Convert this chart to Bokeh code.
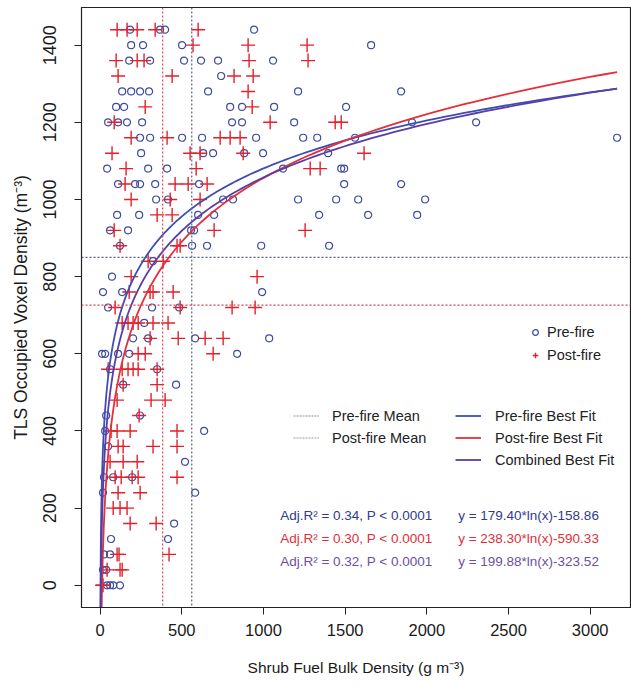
from bokeh.plotting import figure
from bokeh.models import Range1d, Span, Legend, LegendItem, Label, FixedTicker
from bokeh.embed import file_html
from bokeh.resources import INLINE
import numpy as np

# ---------------- data ----------------
pre_x = [184, 367, 398, 943,
         190, 263, 502, 1659,
         178, 306, 514, 618, 722, 1059,
         741,
         135, 190, 245, 300, 661, 1212, 1843,
         98, 147, 796, 869, 1065, 1506,
         49, 110, 165, 257, 808, 869, 1188, 1910, 2302,
         245, 306, 502, 624, 955, 1243, 1329, 1561, 3165,
         251, 631, 692, 882, 998, 1396,
         43, 294, 410, 1120, 1476, 1494,
         110, 214, 245, 337, 606, 1494, 1843,
         343, 416, 753, 814, 1212, 1445, 1580, 1990,
         104, 239, 600, 698, 1341, 1641, 1941,
         61, 171, 557, 576,
         122, 563, 655, 986, 1402,
         324, 73, 18, 135, 992, 49, 318, 484, 270,
         202, 294, 582, 1035,
         12, 31, 110, 178, 839,
         61, 349, 141, 465, 37, 245, 31, 637, 49, 520,
         24, 80, 196, 18, 582, 453, 67, 416, 24, 61, 18, 37,
         43, 61, 80, 122]
pre_y = [1440, 1440, 1440, 1440,
         1400, 1400, 1400, 1400,
         1360, 1360, 1360, 1360, 1360, 1360,
         1320,
         1280, 1280, 1280, 1280, 1280, 1280, 1280,
         1240, 1240, 1240, 1240, 1240, 1240,
         1200, 1200, 1200, 1200, 1200, 1200, 1200, 1200, 1200,
         1160, 1160, 1160, 1160, 1160, 1160, 1160, 1160, 1160,
         1120, 1120, 1120, 1120, 1120, 1120,
         1080, 1080, 1080, 1080, 1080, 1080,
         1040, 1040, 1040, 1040, 1040, 1040, 1040,
         1000, 1000, 1000, 1000, 1000, 1000, 1000, 1000,
         960, 960, 960, 960, 960, 960, 960,
         920, 920, 920, 920,
         880, 880, 880, 880, 880,
         840, 800, 760, 760, 760, 720, 720, 720, 680,
         640, 640, 640, 640,
         600, 600, 600, 600, 600,
         560, 560, 520, 520, 440, 440, 400, 400, 360, 320,
         280, 280, 280, 240, 240, 160, 120, 120, 80, 80, 40, 40,
         0, 0, 0, 0]

post_x = [104, 165, 227, 337, 600,
          569, 906, 1267,
          98, 227, 269, 912, 1273,
          110, 441, 820, 937,
          906,
          276, 931,
          86, 1041, 1439, 1476,
          190, 410, 735, 796, 857,
          73, 551, 612, 876, 1616,
          159, 588, 1286, 1347,
          153, 459, 539, 655,
          190, 429, 612,
          349, 441,
          86, 698, 1255,
          122, 471, 490,
          294, 386,
          190, 961,
          178, 306, 324, 447,
          92, 490, 808, 949,
          135, 171, 202, 233, 324, 416,
          306, 478, 643, 753,
          233, 276, 692,
          49, 135, 171, 202, 233, 349,
          141, 349,
          104, 312, 398,
          239,
          67, 104, 184, 471,
          110, 141, 324, 471,
          61, 141, 227,
          92, 129, 196, 233, 471,
          110, 245,
          80, 122, 165,
          184, 343,
          104, 116, 422,
          43, 122, 135,
          12, 18]
post_y = [1440, 1440, 1440, 1440, 1440,
          1400, 1400, 1400,
          1360, 1360, 1360, 1360, 1360,
          1320, 1320, 1320, 1320,
          1280,
          1240, 1240,
          1200, 1200, 1200, 1200,
          1160, 1160, 1160, 1160, 1160,
          1120, 1120, 1120, 1120, 1120,
          1080, 1080, 1080, 1080,
          1040, 1040, 1040, 1040,
          1000, 1000, 1000,
          960, 960,
          920, 920, 920,
          880, 880, 880,
          840, 840,
          800, 800,
          760, 760, 760, 760,
          720, 720, 720, 720,
          680, 680, 680, 680, 680, 680,
          640, 640, 640, 640,
          600, 600, 600,
          560, 560, 560, 560, 560, 560,
          520, 520,
          480, 480, 480,
          440,
          400, 400, 400, 400,
          360, 360, 360, 360,
          320, 320, 320,
          280, 280, 280, 280, 280,
          240, 240,
          200, 200, 200,
          160, 160,
          80, 80, 80,
          40, 40, 40,
          0, 0]

pre_mean_x, pre_mean_y = 561, 850
post_mean_x, post_mean_y = 383, 726

# fitted models printed on the chart: y = a*ln(x) + b
fit_names = ["Pre-fire Best Fit", "Post-fire Best Fit", "Combined Best Fit"]
fit_a = [179.40, 238.30, 199.88]
fit_b = [-158.86, -590.33, -323.52]

stat_texts = ["Adj.R\u00b2 = 0.34, P < 0.0001",
              "Adj.R\u00b2 = 0.30, P < 0.0001",
              "Adj.R\u00b2 = 0.32, P < 0.0001"]
eq_texts = ["y = 179.40*ln(x)-158.86",
            "y = 238.30*ln(x)-590.33",
            "y = 199.88*ln(x)-323.52"]

x_ticks = [0, 500, 1000, 1500, 2000, 2500, 3000]
y_ticks = [0, 200, 400, 600, 800, 1000, 1200, 1400]

# ---------------- styling ----------------
FONT = "Liberation Sans"
pre_col = "#3f4b9e"
post_col = "#e3202b"
fit_cols = ["#3e4eb2", "#e5303a", "#5a3ea8"]
text_cols = ["#2f3b8e", "#e02f3a", "#6c509f"]

p = figure(width=631, height=693, output_backend="svg", toolbar_location=None,
           x_range=Range1d(-114, 3247), y_range=Range1d(-57.6, 1497.6),
           min_border_left=81, min_border_right=1, min_border_top=7,
           min_border_bottom=86)
p.xgrid.visible = False
p.ygrid.visible = False
p.outline_line_color = "#222222"
p.outline_line_width = 1.2
p.background_fill_color = "white"
p.border_fill_color = "white"

p.xaxis.ticker = FixedTicker(ticks=x_ticks)
p.yaxis.ticker = FixedTicker(ticks=y_ticks)
for ax in (p.xaxis[0], p.yaxis[0]):
    ax.major_tick_out = 7
    ax.major_tick_in = 0
    ax.minor_tick_out = 0
    ax.minor_tick_in = 0
    ax.axis_line_color = "#222222"
    ax.major_tick_line_color = "#222222"
    ax.major_label_text_font = FONT
    ax.major_label_text_color = "#1a1a1a"
    ax.axis_label_text_font = FONT
    ax.axis_label_text_font_style = "normal"
    ax.axis_label_text_color = "#1a1a1a"
p.xaxis.major_label_text_font_size = "16.5px"
p.yaxis.major_label_text_font_size = "18px"
p.yaxis.major_label_orientation = "vertical"
p.xaxis.major_label_standoff = 9
p.yaxis.major_label_standoff = 18
p.xaxis.axis_label = "Shrub Fuel Bulk Density (g m\u207b\u00b3)"
p.yaxis.axis_label = "TLS Occupied Voxel Density (m\u207b\u00b3)"
p.xaxis.axis_label_text_font_size = "15.5px"
p.yaxis.axis_label_text_font_size = "17.5px"
p.xaxis.axis_label_standoff = 20
p.yaxis.axis_label_standoff = 10

# mean lines
p.add_layout(Span(location=pre_mean_x, dimension="height", line_color="#56608e",
                  line_dash="2 2", line_width=1.2))
p.add_layout(Span(location=post_mean_x, dimension="height", line_color="#e0404c",
                  line_dash="2 2", line_width=1.2))
p.add_layout(Span(location=pre_mean_y, dimension="width", line_color="#56608e",
                  line_dash="2 2", line_width=1.2))
p.add_layout(Span(location=post_mean_y, dimension="width", line_color="#e0404c",
                  line_dash="2 2", line_width=1.2))

# points
r_pre = p.scatter(pre_x, pre_y, marker="circle", size=7, fill_color=None,
                  line_color=pre_col, line_width=1.2)
r_post = p.scatter(post_x, post_y, marker="cross", size=14,
                   line_color=post_col, line_width=1.4)

# fit curves
xs = np.geomspace(1, max(pre_x), 300)
fit_r = []
for a, b, c in zip(fit_a, fit_b, fit_cols):
    fit_r.append(p.line(xs, a * np.log(xs) + b, line_color=c, line_width=1.8))

# legend-only renderers for the mean lines (no visible data)
m_pre = p.line(x=[np.nan, np.nan], y=[np.nan, np.nan], line_color="#8a8aa6",
               line_dash="2 1", line_width=1.2)
m_post = p.line(x=[np.nan, np.nan], y=[np.nan, np.nan], line_color="#a89898",
                line_dash="2 1", line_width=1.2)


def mk_legend(items, loc, gw, standoff, lh, spacing):
    leg = Legend(items=items, location=loc, orientation="vertical",
                 glyph_width=gw, glyph_height=lh, label_height=lh,
                 label_standoff=standoff, spacing=spacing, padding=0, margin=0,
                 border_line_alpha=0, background_fill_alpha=0,
                 label_text_font=FONT, label_text_font_size="14.5px",
                 label_text_color="#222222")
    p.add_layout(leg)


mk_legend([LegendItem(label="Pre-fire", renderers=[r_pre]),
           LegendItem(label="Post-fire", renderers=[r_post])],
          (447, 242), 14, 5, 20, 3)
mk_legend([LegendItem(label="Pre-fire Mean", renderers=[m_pre]),
           LegendItem(label="Post-fire Mean", renderers=[m_post])],
          (212, 160), 26, 13, 19, 3)
mk_legend([LegendItem(label=n, renderers=[r]) for n, r in zip(fit_names, fit_r)],
          (374, 138), 26, 14, 19, 3)

# statistics text
stat_y = [181, 122, 62]
for t, e, c, yy in zip(stat_texts, eq_texts, text_cols, stat_y):
    p.add_layout(Label(x=1102, y=yy, text=t, text_color=c, text_font=FONT,
                       text_font_size="13.5px", text_baseline="middle"))
    p.add_layout(Label(x=2192, y=yy, text=e, text_color=c, text_font=FONT,
                       text_font_size="13.5px", text_baseline="middle"))

open("out.html", "w").write(file_html(p, INLINE))
